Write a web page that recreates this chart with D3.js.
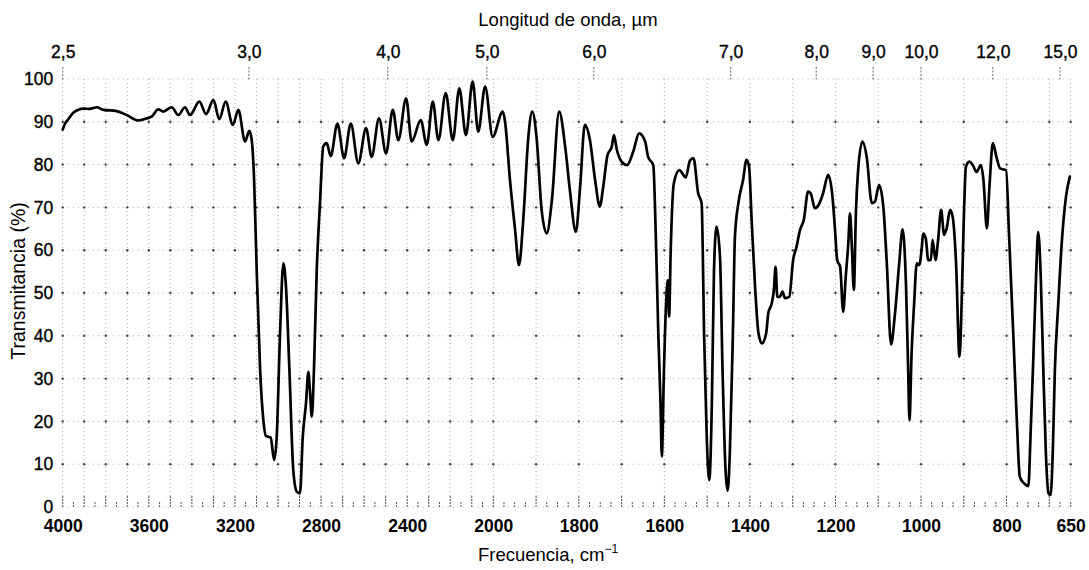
<!DOCTYPE html>
<html><head><meta charset="utf-8">
<script src="https://cdn.jsdelivr.net/npm/d3@7"></script>
<style>
html,body{margin:0;padding:0;background:#fff;}
svg{display:block;font-family:"Liberation Sans",Arial,Helvetica,sans-serif;}
</style></head>
<body><svg id="c" width="1089" height="570"></svg>
<script>
// ---- data ----
const freqTicks = [4000,3600,3200,2800,2400,2000,1800,1600,1400,1200,1000,800,650];
const transTicks = [0,10,20,30,40,50,60,70,80,90,100];
const waveLabels = ["2,5","3,0","4,0","5,0","6,0","7,0","8,0","9,0","10,0","12,0","15,0"];
const waveLabelAt = [4000,3135,2490,2030,1765,1445,1245,1112,1000,832,675];

const spectrumFreq = [4000,3989,3974,3951,3904,3873,3842,3811,3749,3703,3649,3610,3587,3556,3533,3494,3463,3432,3409,3365,3334,3300,3273,3243,3210,3184,3153,3133,3122,3111,3099,3083,3068,3056,3045,3034,3018,3006,2991,2975,2963,2947,2929,2913,2898,2885,2870,2859,2851,2843,2833,2820,2805,2790,2774,2755,2724,2693,2662,2627,2591,2565,2531,2498,2467,2441,2405,2379,2337,2309,2281,2255,2221,2188,2158,2127,2096,2070,2038,2003,
1978,1973,1961,1949,1940,1930,1918,1909,1899,1887,1875,1863,1846,1832,1821,1807,1797,1786,1774,1762,1751,1743,1733,1723,1718,1711,1700,1687,1673,1659,1645,1638,1626,1620,1614,1609,1606,1601,1596,1592,1589,1585,1578,1565,1550,1540,1532,1521,1513,1507,1501,1495,1489,1484,1478,1470,1464,1457,1452,1447,1440,1435,1427,1416,1408,1402,1396,1388,1380,1372,1362,1357,1349,1344,1340,1336,1330,1324,1318,1308,1299,1291,1283,1274,1264,1258,1248,1236,1229,1217,1207,1201,1196,1189,1182,1176,1170,1166,1162,1157,1152,1147,1137,1127,1115,1108,1098,1088,1080,1070,1061,1051,1043,1035,1030,1027,1022,1016,1010,1004,998,995,989,983,977,973,966,960,953,946,940,932,926,918,910,905,900,895,887,879,870,860,854,846,840,832,823,815,801,794,784,776,769,759,749,744,737,731,726,720,714,708,702,697,692,687,679,671,661,652];
const spectrumT = [88.2,89.6,90.6,92.1,93.1,93.0,93.4,92.8,92.5,91.6,90.3,90.8,91.2,92.9,92.4,93.4,91.6,93.4,91.6,94.7,91.8,95.1,90.6,94.7,89.3,92.8,85.4,87.9,85.7,76.4,55.4,32.0,20.3,16.6,16.4,16.2,11.0,16.4,39.8,56.9,51.5,32.0,8.6,3.6,3.2,16.4,24.2,31.6,26.6,21.1,32.0,55.4,71.0,84.2,85.0,82.0,89.6,81.5,89.6,80.3,88.5,81.8,90.8,82.6,92.8,85.7,95.5,85.4,90.4,84.6,94.7,85.7,96.7,85.7,97.8,86.9,99.4,87.7,98.2,86.5,
92.4,90.4,76.4,64.7,56.5,67.1,86.5,92.4,86.5,69.4,63.9,71.7,92.4,84.2,74.1,64.3,74.8,89.3,85.7,76.4,70.2,74.8,82.2,84.2,86.9,83.4,80.7,79.9,83.0,87.3,85.4,81.8,79.9,63.2,39.8,24.2,11.8,32.0,47.6,53.0,44.5,60.8,75.6,78.7,77.0,81.0,81.5,73.3,71.0,39.8,16.4,6.3,24.2,55.4,65.5,58.5,32.0,8.6,3.8,12.5,39.8,63.2,71.0,76.4,81.1,79.5,67.1,51.5,40.6,38.2,40.6,45.3,47.6,50.7,56.1,49.1,49.1,50.3,48.8,49.1,57.7,60.8,64.7,67.1,73.7,73.3,69.8,71.3,73.3,77.6,72.5,64.7,57.7,56.1,45.6,53.8,61.6,68.6,61.6,50.7,69.4,78.7,85.4,81.8,71.0,71.3,75.2,70.0,57.0,38.0,45.0,56.9,64.9,51.5,32.0,20.3,35.9,47.6,56.9,56.5,60.8,63.9,62.8,57.7,57.7,62.4,57.7,62.4,69.4,63.6,65.1,69.4,67.8,56.9,35.1,47.6,67.1,79.5,80.7,79.9,78.3,79.9,76.4,65.1,74.8,85.0,81.5,79.1,78.7,63.2,39.8,20.3,7.1,5.5,4.9,16.4,35.9,53.8,64.3,53.8,32.0,12.5,3.2,2.8,12.5,32.0,47.6,61.6,72.5,77.2];

// ---- scales ----
const x = d3.scaleLinear().domain([4000, 2000, 650]).range([62.7, 493.3, 1070.7]);
const y = d3.scaleLinear().domain([0, 100]).range([507, 79]);

const svg = d3.select("#c");
const font = '"Liberation Sans",Arial,Helvetica,sans-serif';

// ---- grid ----
const gridFreq = d3.range(4000, 699, -100).concat([650]);
const grid = svg.append("g");
grid.selectAll("line.v").data(gridFreq).join("line")
  .attr("x1", d => x(d)).attr("x2", d => x(d))
  .attr("y1", y(100)).attr("y2", y(0))
  .attr("stroke", "#9a9a9a").attr("stroke-width", 0.8)
  .attr("stroke-dasharray", "1,3");
grid.selectAll("line.h").data(transTicks).join("line")
  .attr("x1", x(4000)).attr("x2", x(650))
  .attr("y1", d => y(d)).attr("y2", d => y(d))
  .attr("stroke", "#9a9a9a").attr("stroke-width", 0.8)
  .attr("stroke-dasharray", "1,4");
// intersection dots
const inter = [];
gridFreq.forEach(f => transTicks.slice(1, 10).forEach(t => inter.push([f, t])));
grid.selectAll("circle").data(inter).join("circle")
  .attr("cx", d => x(d[0])).attr("cy", d => y(d[1]))
  .attr("r", 1.2).attr("fill", "#444");

// bottom minor ticks
const minor = d3.range(4000, 2000, -50).concat(d3.range(2000, 649, -25));
grid.selectAll("line.m").data(minor).join("line")
  .attr("x1", d => x(d)).attr("x2", d => x(d))
  .attr("y1", y(0)).attr("y2", d => y(0) - (d % 100 === 0 ? 11 : 6))
  .attr("stroke", "#555").attr("stroke-width", 1)
  .attr("stroke-dasharray", "2,1");

// top small ticks at wavelength labels
grid.selectAll("line.t").data(waveLabelAt).join("line")
  .attr("x1", d => x(d)).attr("x2", d => x(d))
  .attr("y1", y(100) - 12).attr("y2", y(100) + 2)
  .attr("stroke", "#666").attr("stroke-width", 1)
  .attr("stroke-dasharray", "2,1.5");

// ---- axes ----
const xb = svg.append("g").attr("transform", `translate(0,${y(0)})`)
  .call(d3.axisBottom(x).tickValues(freqTicks).tickSize(0).tickPadding(13).tickFormat(d3.format("d")));
xb.select(".domain").remove();
xb.selectAll("text").attr("font-family", font).attr("font-size", 17.5).attr("font-weight", "bold").attr("fill", "#000");

const yl = svg.append("g").attr("transform", `translate(${x(4000)},0)`)
  .call(d3.axisLeft(y).tickValues(transTicks).tickSize(0).tickPadding(9.5));
yl.select(".domain").remove();
yl.selectAll("text").attr("font-family", font).attr("font-size", 17.5).attr("fill", "#000")
  .attr("stroke", "#000").attr("stroke-width", 0.35);

const xt = svg.append("g").attr("transform", `translate(0,${y(100)})`)
  .call(d3.axisTop(x).tickValues(waveLabelAt).tickSize(0).tickPadding(21.5)
    .tickFormat((d, i) => waveLabels[i]));
xt.select(".domain").remove();
xt.selectAll("text").attr("font-family", font).attr("font-size", 17.5).attr("fill", "#000")
  .attr("stroke", "#000").attr("stroke-width", 0.35);

// ---- titles ----
svg.append("text").attr("x", 568).attr("y", 26).attr("text-anchor", "middle")
  .attr("font-family", font).attr("font-size", 18.5).attr("fill", "#000")
  .text("Longitud de onda, µm");

const bt = svg.append("text").attr("x", 548).attr("y", 561).attr("text-anchor", "middle")
  .attr("font-family", font).attr("font-size", 18.5).attr("fill", "#000");
bt.append("tspan").text("Frecuencia, cm");
bt.append("tspan").attr("font-size", 12).attr("dy", -8).text("\u22121");

svg.append("text").attr("transform", "translate(25,281) rotate(-90)").attr("text-anchor", "middle")
  .attr("font-family", font).attr("font-size", 19.5).attr("fill", "#000")
  .text("Transmitancia (%)");

// ---- spectrum ----
const pts = spectrumFreq.map((f, i) => [f, spectrumT[i]]);
const line = d3.line().x(d => x(d[0])).y(d => y(d[1])).curve(d3.curveMonotoneX);
svg.append("path").datum(pts).attr("d", line)
  .attr("fill", "none").attr("stroke", "#000").attr("stroke-width", 2.7)
  .attr("stroke-linejoin", "round").attr("stroke-linecap", "round");
</script>
</body></html>
